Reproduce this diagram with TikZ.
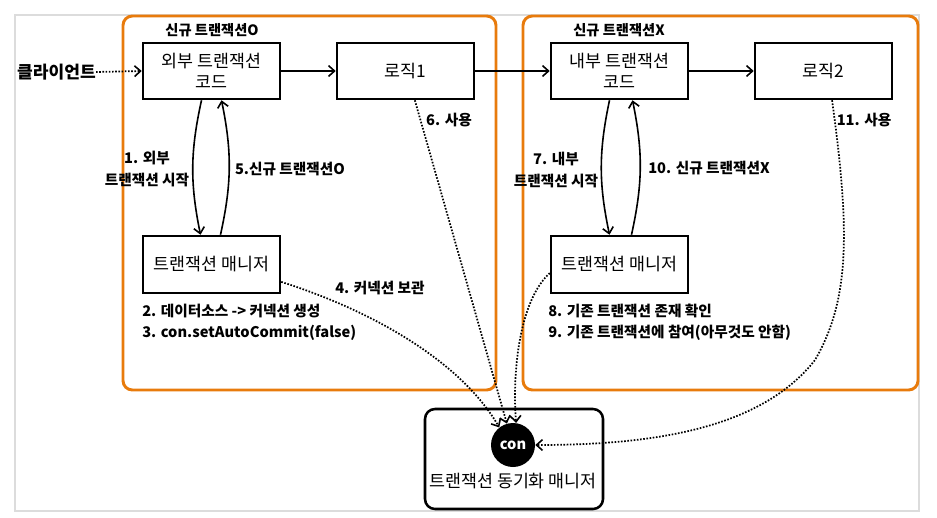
\documentclass[tikz,border=0pt]{standalone}
\usepackage{fontspec}
\setmainfont{Noto Sans CJK KR}
\usetikzlibrary{arrows.meta}
\definecolor{orng}{HTML}{E87B0C}
\definecolor{frame}{HTML}{DCDCDC}
\tikzset{
  box/.style={draw=black, line width=1.9pt, minimum width=102.75pt, minimum height=42pt, inner sep=1pt, align=center, font=\fontsize{13}{15.75}\selectfont},
  grp/.style={draw=orng, line width=2.2pt, rounded corners=7pt},
  lbl/.style={font=\bfseries\fontsize{11}{16.5}\selectfont, inner sep=0pt, align=center},
  tip/.style={-{Straight Barb[length=4.5pt,width=8pt,line width=1.2pt]}},
  solidarr/.style={tip, line width=1.2pt},
  dotarr/.style={tip, line width=1.3pt, dash pattern=on 1.2pt off 1.2pt},
}
\begin{document}
\begin{tikzpicture}[x=0.75pt,y=-0.75pt]
\useasboundingbox (0,0) rectangle (937,517);
\draw[frame, line width=1.6pt] (15,15) rectangle (919,511);
% groups
\draw[grp] (123,16) rectangle (496,390);
\draw[grp] (523,16) rectangle (918,390);
\node[lbl, font=\bfseries\fontsize{10.7}{12}\selectfont] (g1) at (212,30) {신규 트랜잭션O};
\node[lbl, font=\bfseries\fontsize{10.7}{12}\selectfont] (g2) at (619,30) {신규 트랜잭션X};
% boxes
\node[box] (outer) at (211.5,71) {외부 트랜잭션\\코드};
\node[box] (logic1) at (405.5,71) {로직1};
\node[box] (inner) at (619.5,71) {내부 트랜잭션\\코드};
\node[box] (logic2) at (823.5,71) {로직2};
\node[box, minimum height=42.75pt] (mgr1) at (211.5,264.5) {트랜잭션 매니저};
\node[box, minimum height=42.75pt] (mgr2) at (619.5,264.5) {트랜잭션 매니저};
\node[draw=black, line width=1.9pt, rounded corners=7.5pt, minimum width=133.5pt, minimum height=75pt] (sync) at (514,459) {};
\node[circle, fill=black, minimum size=33pt, inner sep=0pt, text=white, font=\bfseries\fontsize{11}{12}\selectfont] (con) at (513,445) {con};
\node[font=\fontsize{13}{14}\selectfont, inner sep=0pt] (synct) at (513,481) {트랜잭션 동기화 매니저};
% client
\node[lbl, font=\bfseries\fontsize{12.8}{14}\selectfont] (client) at (56.5,72) {클라이언트};
\draw[dotarr] (client.east) -- (outer.west);
% main flow
\draw[solidarr] (outer) -- (logic1);
\draw[solidarr] (logic1) -- (inner);
\draw[solidarr] (inner) -- (logic2);
% manager arrows
\draw[solidarr] ([xshift=-7.5pt]outer.south) to[bend right=12] ([xshift=-8.25pt]mgr1.north);
\draw[solidarr] ([xshift=6.75pt]mgr1.north) to[bend right=12] ([xshift=7.5pt]outer.south);
\draw[solidarr] ([xshift=-7.5pt]inner.south) to[bend right=12] ([xshift=-7.5pt]mgr2.north);
\draw[solidarr] ([xshift=9pt]mgr2.north) to[bend right=12] ([xshift=9.75pt]inner.south);
% labels
\node[lbl] (l1) at (147,169) {1. 외부\\트랜잭션 시작};
\node[lbl] (l5) at (290,169) {5.신규 트랜잭션O};
\node[lbl] (l7) at (556,170) {7. 내부\\트랜잭션 시작};
\node[lbl] (l10) at (709,168) {10. 신규 트랜잭션X};
\node[lbl] (l6) at (449,120) {6. 사용};
\node[lbl] (l11) at (864,120) {11. 사용};
\node[lbl] (l4) at (380,288) {4. 커넥션 보관};
\node[lbl, align=left, anchor=west, font=\bfseries\fontsize{11}{15.75}\selectfont] (l23) at (142,322.5) {2. 데이터소스 -> 커넥션 생성\\3. con.setAutoCommit(false)};
\node[lbl, align=left, anchor=west, font=\bfseries\fontsize{11}{15.75}\selectfont] (l89) at (548,322.5) {8. 기존 트랜잭션 존재 확인\\9. 기존 트랜잭션에 참여(아무것도 안함)};
% dotted connections to con
\draw[dotarr] ([xshift=7pt]logic1.south) -- (con.106);
\draw[dotarr] (mgr1.-14) .. controls (370,310) and (460,360) .. (con.128);
\draw[dotarr] (mgr2.187) .. controls (520,300) and (512,370) .. (con.82);
\draw[dotarr] ([xshift=6.4pt]logic2.south) .. controls (850,230) and (850,300) .. (815,360) .. controls (760,430) and (650,445) .. (con.east);
\end{tikzpicture}
\end{document}
